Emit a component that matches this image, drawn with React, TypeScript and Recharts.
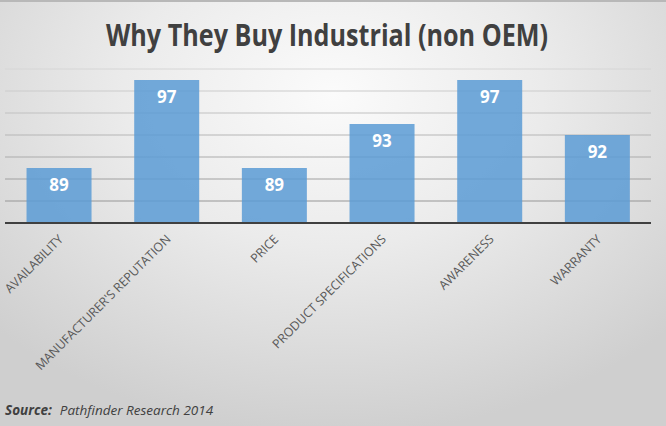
import React from "react";
import { BarChart, Bar, XAxis, YAxis, CartesianGrid, LabelList } from "recharts";

const categories = [
  "AVAILABILITY",
  "MANUFACTURER'S REPUTATION",
  "PRICE",
  "PRODUCT SPECIFICATIONS",
  "AWARENESS",
  "WARRANTY",
];
const values = [89, 97, 89, 93, 97, 92];
const yTicks = [84, 86, 88, 90, 92, 94, 96, 98];
const title = "Why They Buy Industrial (non OEM)";
const sourceLabel = "Source:";
const sourceText = "Pathfinder Research 2014";

const data = categories.map((name, i) => ({ name, value: values[i] }));

const FONT = "'Open Sans', 'Noto Sans', sans-serif";

const Tick = (props: any) => {
  const { x, y, payload } = props;
  const ax = x + 5;
  const ay = y + 9;
  return (
    <text
      x={ax}
      y={ay}
      transform={`rotate(-45 ${ax} ${ay})`}
      textAnchor="end"
      fontSize={12.4}
      fontFamily={FONT}
      fill="#595959"
    >
      {payload.value}
    </text>
  );
};

export default function App() {
  return (
    <>
      <style>{"body{margin:0;}"}</style>
      <div
        style={{
          position: "relative",
          width: 666,
          height: 426,
          background:
            "radial-gradient(ellipse 70% 80% at 50% 22%, #fbfbfb 0%, #ebebeb 45%, #cfcfcf 100%)",
          overflow: "hidden",
        }}
      >
        <div
          style={{
            position: "absolute",
            left: 0,
            top: 0,
            width: 666,
            height: 2,
            background: "#b8b8b8",
          }}
        />
        <svg width={666} height={426} style={{ position: "absolute", left: 0, top: 0 }}>
          <text
            x={327}
            y={46}
            textAnchor="middle"
            fontSize={30}
            fontWeight="bold"
            fontFamily={FONT}
            fill="#404040"
            textLength={442}
            lengthAdjust="spacingAndGlyphs"
          >
            {title}
          </text>
          <text x={5} y={415} fontSize={13.5} fontFamily={FONT} fill="#404040" fontStyle="italic">
            <tspan fontWeight="bold">{sourceLabel}</tspan>
            <tspan dx={8}>{sourceText}</tspan>
          </text>
        </svg>
        <div style={{ position: "absolute", left: 0, top: 0 }}>
          <BarChart
            width={666}
            height={426}
            data={data}
            margin={{ top: 69, right: 15, left: 5, bottom: 0 }}
            barCategoryGap="20%"
          >
            <defs>
              <linearGradient
                id="gridGrad"
                x1="0"
                y1="69"
                x2="0"
                y2="223"
                gradientUnits="userSpaceOnUse"
              >
                <stop offset="0%" stopColor="#d6d6d6" />
                <stop offset="100%" stopColor="#8c8c8c" />
              </linearGradient>
            </defs>
            <CartesianGrid vertical={false} stroke="url(#gridGrad)" strokeWidth={1.2} />
            <YAxis hide domain={[84, 98]} ticks={yTicks} interval={0} />
            <XAxis
              dataKey="name"
              height={203}
              interval={0}
              tickLine={false}
              axisLine={{ stroke: "#404040", strokeWidth: 2 }}
              tick={<Tick />}
            />
            <Bar dataKey="value" fill="#5b9bd5" fillOpacity={0.85} isAnimationActive={false}>
              <LabelList
                dataKey="value"
                position="insideTop"
                offset={11}
                fill="#ffffff"
                fontSize={17}
                fontWeight="bold"
                fontFamily={FONT}
              />
            </Bar>
          </BarChart>
        </div>
      </div>
    </>
  );
}
